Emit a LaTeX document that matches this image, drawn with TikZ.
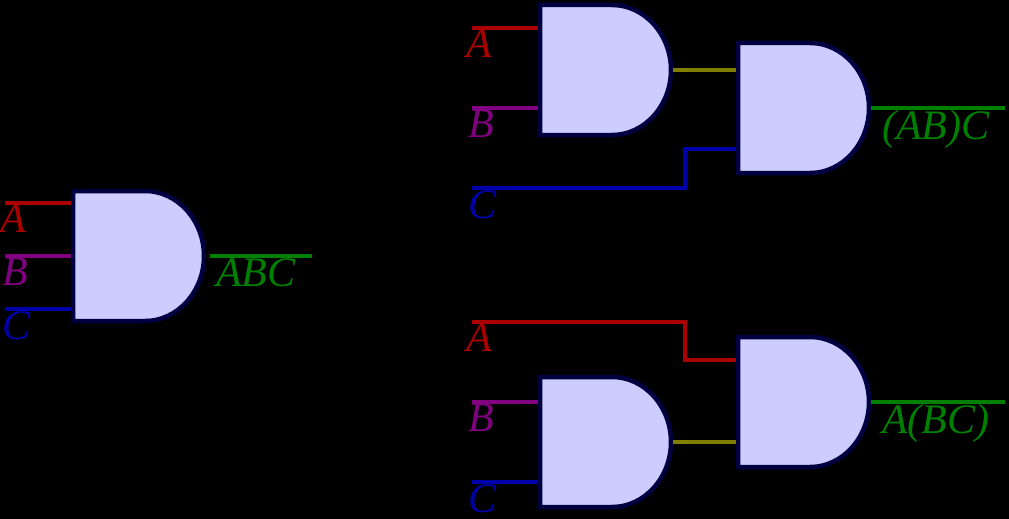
\documentclass[tikz,border=0pt]{standalone}
\usepackage{fontspec}
\setmainfont{Liberation Serif}
\definecolor{cA}{HTML}{AA0000}
\definecolor{cB}{HTML}{800080}
\definecolor{cC}{HTML}{0000AA}
\definecolor{cO}{HTML}{008000}
\definecolor{cM}{HTML}{808000}
\definecolor{gfill}{HTML}{CCCCFF}
\definecolor{gline}{HTML}{000040}
\newcommand\mygate[3]{%
  \draw[gline,line width=4.5,fill=gfill] (#1,#2) -- (#1+72,#2)
   .. controls (#1+105,#2) and (#1+131,#2+30) .. (#1+131,#2+65)
   .. controls (#1+131,#2+100) and (#1+105,#2+130) .. (#1+72,#2+130)
   -- (#1,#2+130) -- cycle;
  \coordinate (#3o) at (#1+133,#2+65);}
\begin{document}
\begin{tikzpicture}[x=1pt,y=-1pt,
  wire/.style={line width=4.5},
  lbl/.style={font=\fontsize{42}{42}\selectfont\itshape,anchor=north west,inner sep=0pt}]
\useasboundingbox[fill=black] (0,0) rectangle (1009,519);
% left
\mygate{73}{191}{g1}
\coordinate (a1) at (5,203); \coordinate (a1e) at (71,203);
\coordinate (b1) at (5,256); \coordinate (b1e) at (71,256);
\coordinate (c1) at (5,309); \coordinate (c1e) at (71,309);
\coordinate (o1) at (312,256);
\draw[wire,cA] (a1)--(a1e); \draw[wire,cB] (b1)--(b1e); \draw[wire,cC] (c1)--(c1e);
\draw[wire,cO] ([xshift=4]g1o)--(o1);
\node[lbl,cA] at (0,205) {A};
\node[lbl,cB] at (2,258) {B};
\node[lbl,cC] at (2,311) {C};
\node[lbl,cO] at (216,258) {ABC};
% top right
\mygate{540}{5}{g2}
\mygate{738}{43}{g3}
\coordinate (a2) at (472,28); \coordinate (a2e) at (538,28);
\coordinate (b2) at (472,108); \coordinate (b2e) at (538,108);
\coordinate (c2) at (472,188); \coordinate (c2e) at (736,149);
\coordinate (g3a) at (736,70);
\coordinate (o3) at (1005,108);
\draw[wire,cA] (a2)--(a2e); \draw[wire,cB] (b2)--(b2e);
\draw[wire,cC] (c2) -| (685,149) -- (c2e);
\draw[wire,cM] (g2o)--(g3a);
\draw[wire,cO] (g3o)--(o3);
\node[lbl,cA] at (466,30) {A};
\node[lbl,cB] at (468,110) {B};
\node[lbl,cC] at (468,190) {C};
\node[lbl,cO] at (882,110) {(AB)C};
% bottom right
\mygate{738}{337}{g4}
\mygate{540}{377}{g5}
\coordinate (a3) at (472,322); \coordinate (a3e) at (736,360);
\coordinate (b3) at (472,402); \coordinate (b3e) at (538,402);
\coordinate (c3) at (472,482); \coordinate (c3e) at (538,482);
\coordinate (g4b) at (736,442);
\coordinate (o4) at (1005,402);
\draw[wire,cA] (a3) -| (685,360) -- (a3e);
\draw[wire,cB] (b3)--(b3e); \draw[wire,cC] (c3)--(c3e);
\draw[wire,cM] (g5o)--(g4b);
\draw[wire,cO] (g4o)--(o4);
\node[lbl,cA] at (466,324) {A};
\node[lbl,cB] at (468,404) {B};
\node[lbl,cC] at (468,484) {C};
\node[lbl,cO] at (882,404) {A(BC)};
\end{tikzpicture}
\end{document}
